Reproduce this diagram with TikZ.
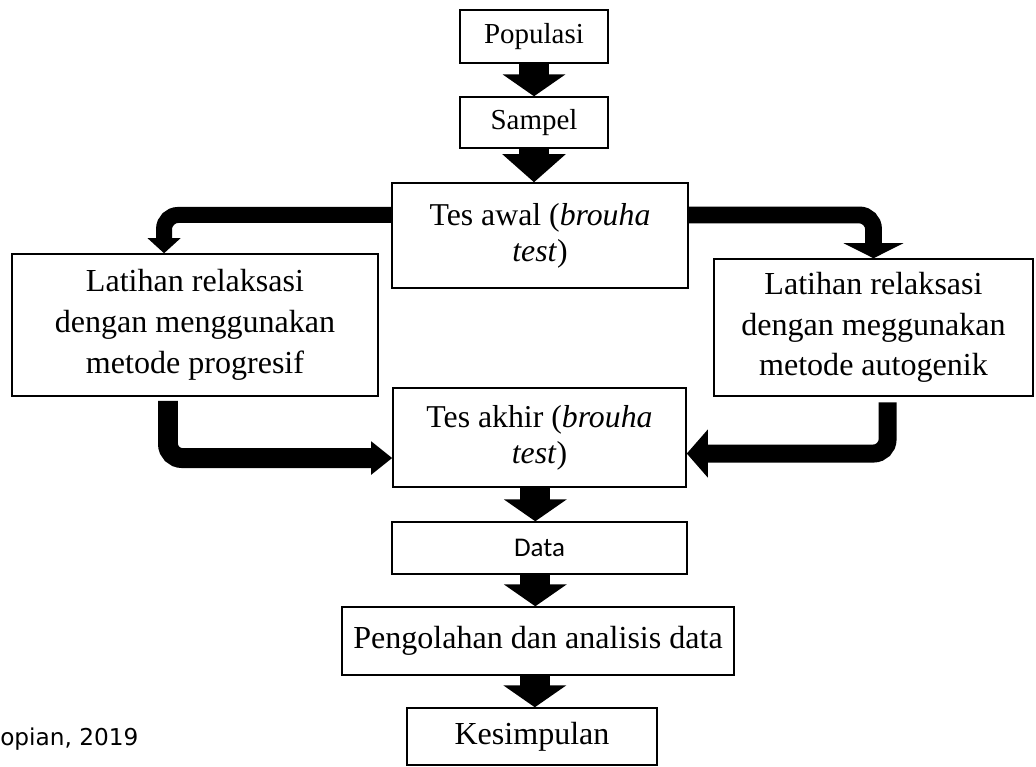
\documentclass[tikz,border=0pt]{standalone}
\usepackage{fontspec}
\setmainfont{Liberation Serif}
\newfontfamily\datafont{Carlito}
\newfontfamily\notefont{DejaVu Sans}
\usetikzlibrary{arrows.meta}

\begin{document}
\begin{tikzpicture}[x=0.025cm,y=-0.025cm]
    \tikzstyle{box}=[draw=black, line width=1pt, inner sep=0pt, align=center]
    \tikzstyle{small box}=[box, font=\fontsize{20.6}{25}\selectfont]
    \tikzstyle{test box}=[box, font=\fontsize{22.6}{25.6}\selectfont]
    \tikzstyle{long box}=[box, font=\fontsize{22.8}{29}\selectfont]
    \tikzstyle{data box}=[box, font=\datafont\fontsize{19.2}{22}\selectfont]
    \tikzstyle{flow}=[line width=21.3pt, -{Triangle[width=44pt,length=15.6pt]}]
    \tikzstyle{branch}=[rounded corners=10pt]

    \useasboundingbox (0,0) rectangle (1036,767);

    % Draw the boxes of the main column
    \node[small box, minimum width=3.7cm, minimum height=1.325cm] (populasi) at (534,36.5) {Populasi};
    \node[small box, minimum width=3.7cm, minimum height=1.275cm] (sampel) at (534,122.5) {Sampel};
    \node[test box, minimum width=7.4cm, minimum height=2.625cm] (tesawal) at (540,235.5)
        {Tes awal (\textit{brouha}\\\textit{test})};
    \node[test box, minimum width=7.325cm, minimum height=2.475cm] (tesakhir) at (539.5,437.5)
        {Tes akhir (\textit{brouha}\\\textit{test})};
    \node[data box, minimum width=7.375cm, minimum height=1.3cm] (data) at (539.5,548) {Data};
    \node[long box, minimum width=9.8cm, minimum height=1.7cm] (olah) at (538,641)
        {Pengolahan dan analisis data};
    \node[long box, minimum width=6.25cm, minimum height=1.425cm] (simpul) at (532,736.5) {Kesimpulan};

    % Draw the two training boxes
    \node[long box, minimum width=9.15cm, minimum height=3.55cm] (latprog) at (195,325)
        {Latihan relaksasi\\dengan menggunakan\\metode progresif};
    \node[long box, minimum width=7.975cm, minimum height=3.425cm] (latauto) at (873.5,327.5)
        {Latihan relaksasi\\dengan meggunakan\\metode autogenik};

    % Straight arrows
    \draw[flow] (populasi.south) -- (sampel.north);
    \draw[flow, -{Triangle[width=44pt,length=20pt]}] (sampel.south) -- (sampel.south |- tesawal.north);
    \draw[flow] ([xshift=-3pt]tesakhir.south) -- ([xshift=-3pt]data.north);
    \draw[flow] ([xshift=-3pt]data.south) -- ([xshift=-3pt]data.south |- olah.north);
    \draw[flow] ([xshift=2pt]simpul.north |- olah.south) -- ([xshift=2pt]simpul.north);

    % Branch out from the first test
    \draw[branch, line width=11.4pt, -{Triangle[width=22.8pt,length=10.7pt]}]
        ([yshift=14.6pt]tesawal.west) -| ([xshift=-22pt]latprog.north);
    \draw[branch, line width=12pt, -{Triangle[width=42pt,length=10.7pt]}]
        ([yshift=14.6pt]tesawal.east) -| (latauto.north);

    % Join into the final test
    \draw[branch, line width=14.2pt, shorten <=3pt, -{Triangle[width=22.8pt,length=15pt]}]
        ([xshift=-19.2pt]latprog.south) |- ([yshift=-14.6pt]tesakhir.west);
    \draw[branch, line width=12.8pt, shorten <=4pt, -{Triangle[width=33.4pt,length=15pt]}]
        ([xshift=10pt]latauto.south) |- ([yshift=-11.4pt]tesakhir.east);

    % Source note
    \node[anchor=base west, inner sep=0pt, font=\notefont\fontsize{16.5}{20}\selectfont] (sumber) at (0,745) {opian, 2019};
\end{tikzpicture}
\end{document}
